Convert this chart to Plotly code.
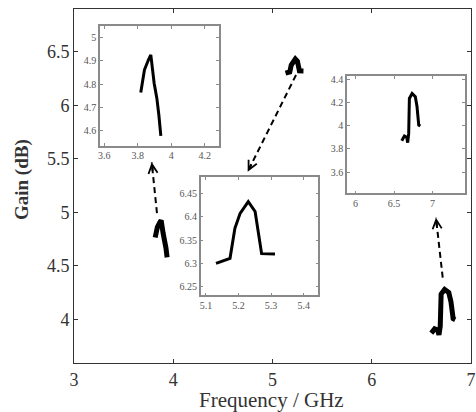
import plotly.graph_objects as go

# ---- data ----
f_band1 = [3.818, 3.840, 3.864, 3.878, 3.898, 3.914, 3.926, 3.938]
g_band1 = [4.764, 4.861, 4.904, 4.925, 4.804, 4.740, 4.669, 4.579]

f_band2 = [5.131, 5.174, 5.189, 5.205, 5.230, 5.251, 5.271, 5.312]
g_band2 = [6.300, 6.311, 6.375, 6.407, 6.432, 6.411, 6.321, 6.320]

f_band3 = [6.600, 6.634, 6.664, 6.677, 6.690, 6.690, 6.699, 6.734, 6.776, 6.798, 6.820, 6.841]
g_band3 = [3.871, 3.911, 3.900, 3.854, 3.934, 4.135, 4.236, 4.279, 4.250, 4.164, 4.006, 3.997]

main_xticks = [3, 4, 5, 6, 7]
main_yticks = [4, 4.5, 5, 5.5, 6, 6.5]
in1_xticks = [3.6, 3.8, 4, 4.2]
in1_yticks = [4.6, 4.7, 4.8, 4.9, 5]
in2_xticks = [6, 6.5, 7]
in2_yticks = [3.6, 3.8, 4, 4.2, 4.4]
in3_xticks = [5.1, 5.2, 5.3, 5.4]
in3_yticks = [6.25, 6.3, 6.35, 6.4, 6.45]

FONT = "Liberation Serif"
W, H = 476, 412
L, R, T, B = 74, 5, 9, 49
PW, PH = W - L - R, H - T - B


def dom_x(a, b):
    return [(a - L) / PW, (b - L) / PW]


def dom_y(top, bot):
    return [(H - B - bot) / PH, (H - B - top) / PH]


def px_x(px):
    return (px - L) / PW


def px_y(py):
    return (H - B - py) / PH


fig = go.Figure()
bands = [(f_band1, g_band1), (f_band2, g_band2), (f_band3, g_band3)]
for f, g in bands:
    fig.add_trace(go.Scatter(x=f, y=g, mode="lines", xaxis="x", yaxis="y",
                             line=dict(color="black", width=5), showlegend=False))
inset_axes = [("x2", "y2"), ("x4", "y4"), ("x3", "y3")]
for (f, g), (xa, ya) in zip(bands, inset_axes):
    fig.add_trace(go.Scatter(x=f, y=g, mode="lines", xaxis=xa, yaxis=ya,
                             line=dict(color="black", width=3), showlegend=False))

main_ax = dict(showline=True, mirror="ticks", linecolor="#333", linewidth=1,
               ticks="inside", ticklen=4, tickcolor="#333", showgrid=False,
               zeroline=False, automargin=False,
               tickfont=dict(family=FONT, size=18, color="#333"))
in_ax = dict(showline=True, mirror="ticks", linecolor="#8a8a8a", linewidth=1.5,
             ticks="inside", ticklen=3, tickcolor="#8a8a8a", showgrid=False,
             zeroline=False, automargin=False,
             tickfont=dict(family=FONT, size=10, color="#555"))

fig.update_layout(
    width=W, height=H, autosize=False,
    margin=dict(l=L, r=R, t=T, b=B, autoexpand=False),
    paper_bgcolor="white", plot_bgcolor="white",
    xaxis=dict(main_ax, range=[3, 7], tickvals=main_xticks, domain=[0, 1]),
    yaxis=dict(main_ax, range=[3.592, 6.899], tickvals=main_yticks,
               ticktext=[str(v) for v in main_yticks], domain=[0, 1]),
    xaxis2=dict(in_ax, range=[3.574, 4.286], tickvals=in1_xticks,
                ticktext=["3.6", "3.8", "4", "4.2"], domain=dom_x(100, 219), anchor="y2"),
    yaxis2=dict(in_ax, range=[4.537, 5.048], tickvals=in1_yticks,
                ticktext=["4.6", "4.7", "4.8", "4.9", "5"], domain=dom_y(26, 145.7), anchor="x2"),
    xaxis3=dict(in_ax, range=[5.89, 7.42], tickvals=in2_xticks,
                ticktext=["6", "6.5", "7"], domain=dom_x(347, 465), anchor="y3"),
    yaxis3=dict(in_ax, range=[3.416, 4.43], tickvals=in2_yticks,
                ticktext=["3.6", "3.8", "4", "4.2", "4.4"], domain=dom_y(76, 193.3), anchor="x3"),
    xaxis4=dict(in_ax, range=[5.084, 5.445], tickvals=in3_xticks,
                ticktext=["5.1", "5.2", "5.3", "5.4"], domain=dom_x(200.7, 318.3), anchor="y4"),
    yaxis4=dict(in_ax, range=[6.232, 6.484], tickvals=in3_yticks,
                ticktext=["6.25", "6.3", "6.35", "6.4", "6.45"], domain=dom_y(177.3, 295.3), anchor="x4"),
)

# axis titles
fig.add_annotation(x=px_x(271.7), y=px_y(400), xref="paper", yref="paper",
                   text="Frequency / GHz", showarrow=False, xanchor="center", yanchor="middle",
                   font=dict(family=FONT, size=21, color="#333"))
fig.add_annotation(x=px_x(22), y=px_y(180), xref="paper", yref="paper",
                   text="<b>Gain (dB)</b>", showarrow=False, textangle=-90,
                   xanchor="center", yanchor="middle",
                   font=dict(family=FONT, size=19, color="#333"))

# dashed arrows: (tail x, tail y, head x, head y, pixel offset of tail for head)
arrows = [
    (3.836, 4.993, 3.783, 5.467, 1.2, 10),
    (5.237, 6.282, 4.750, 5.379, 4.5, -9),
    (6.715, 4.389, 6.647, 4.949, 1.1, 10),
]
for tx, ty, hx, hy, ax, ay in arrows:
    fig.add_shape(type="line", xref="x", yref="y", x0=tx, y0=ty, x1=hx, y1=hy,
                  line=dict(color="black", width=2, dash="6px,4px"))
    fig.add_annotation(x=hx, y=hy, xref="x", yref="y", ax=ax, ay=ay, text="",
                       showarrow=True, arrowhead=5, arrowsize=0.9, arrowwidth=2,
                       arrowcolor="black")

fig.write_html("out.html", config={"displayModeBar": False},
               post_script="document.body.style.margin='0';document.body.style.overflow='hidden';")
